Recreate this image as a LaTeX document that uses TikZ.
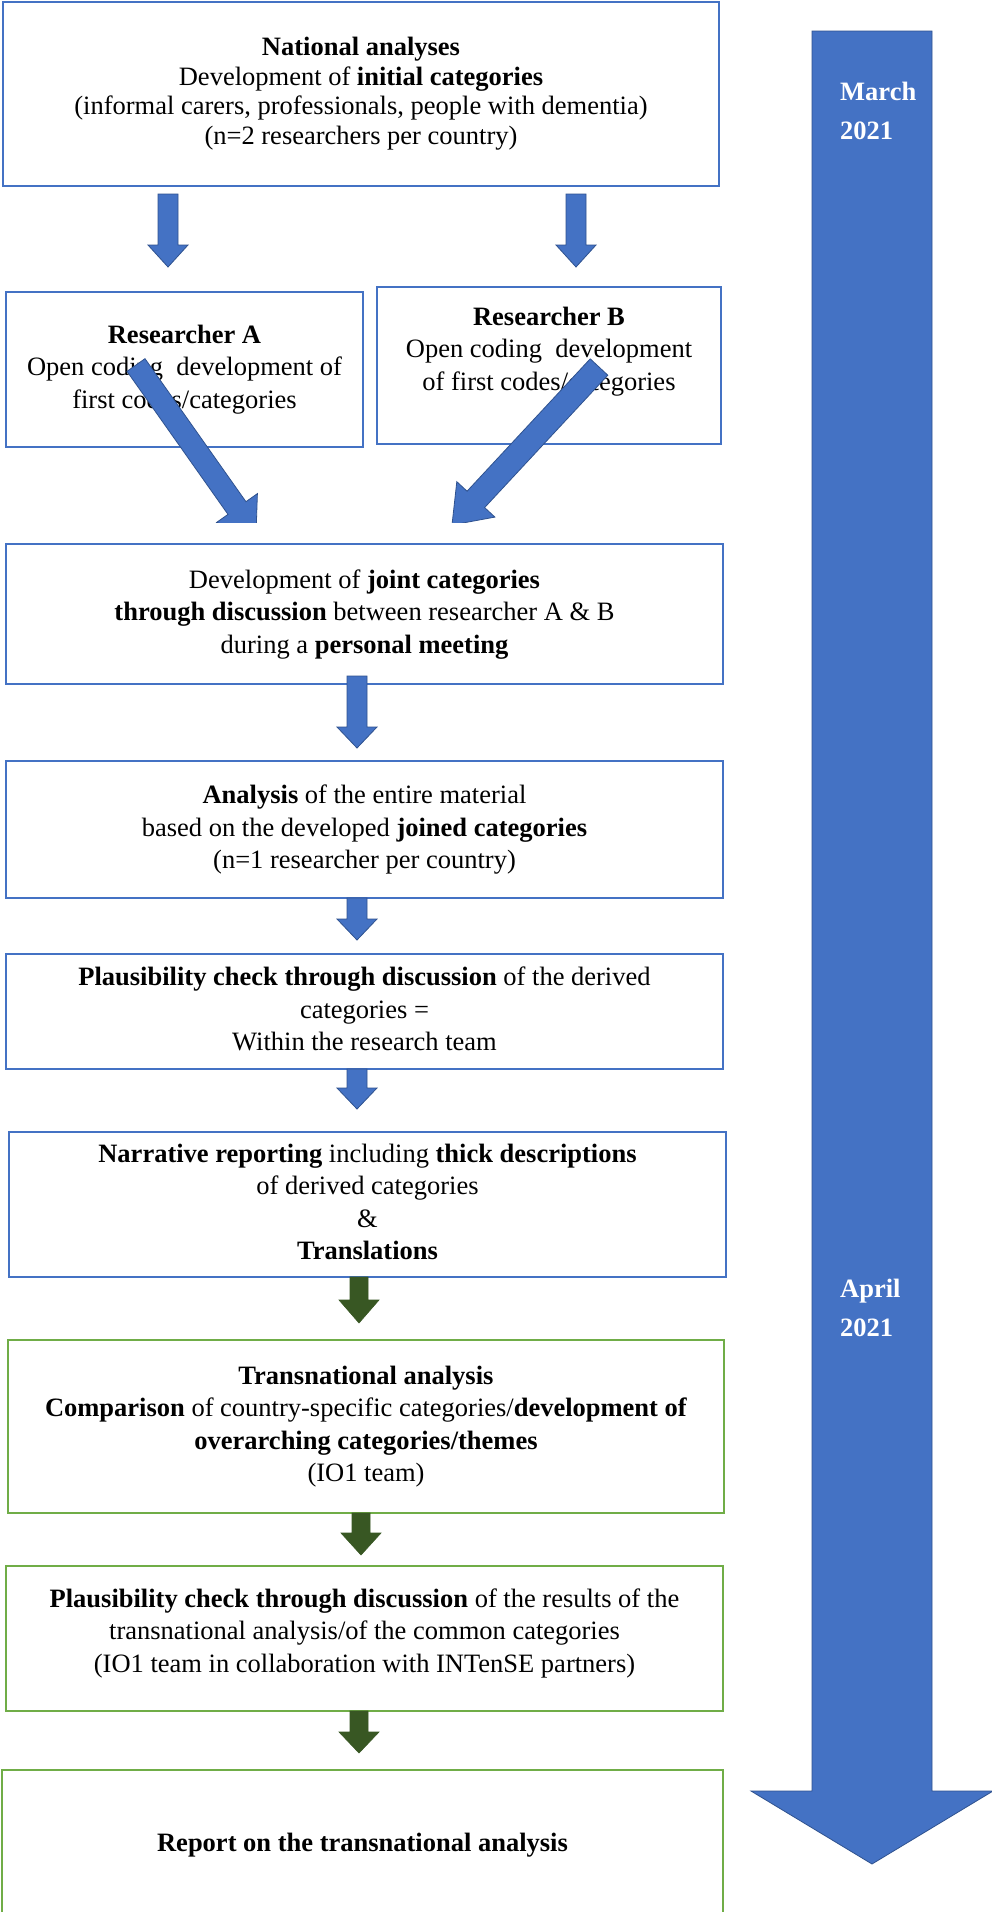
\documentclass[tikz,border=0pt]{standalone}
\usepackage{fontspec}
\setmainfont{Liberation Serif}
\usetikzlibrary{calc}
\definecolor{boxblue}{HTML}{4472C4}
\definecolor{arrblue}{HTML}{4472C4}
\definecolor{arredge}{HTML}{2F528F}
\definecolor{boxgreen}{HTML}{70AD47}
\definecolor{arrgreen}{HTML}{385723}
\newcommand\bodyfont{\fontsize{26.5}{32.5}\selectfont}
\newcommand\topfont{\fontsize{26.5}{29.5}\selectfont}
\newcommand\monthfont{\fontsize{26.5}{39}\selectfont\bfseries}
% block arrow: start, tip, shaft half width, head half width, head length, style
\newcommand\blockarrow[6]{%
  \coordinate (tmpH) at ($(#2)!#5!(#1)$);
  \filldraw[#6] ($(#1)!#3!90:(#2)$) -- ($(tmpH)!#3!90:(#2)$) -- ($(tmpH)!#4!90:(#2)$)
    -- (#2) -- ($(tmpH)!#4!-90:(#2)$) -- ($(tmpH)!#3!-90:(#2)$) -- ($(#1)!#3!-90:(#2)$) -- cycle;
}
\tikzset{
  bbox/.style={draw=boxblue, line width=2pt, align=center, inner sep=0pt, font=\bodyfont},
  gbox/.style={draw=boxgreen, line width=2pt, align=center, inner sep=0pt, font=\bodyfont},
  txt/.style={align=center, inner sep=0pt, font=\bodyfont},
  barr/.style={fill=arrblue, draw=arredge, line width=0.8pt, line join=miter},
  garr/.style={fill=arrgreen, draw=arrgreen, line width=0.6pt, line join=miter},
  month/.style={align=left, inner sep=0pt, anchor=north west, text=white, font=\monthfont}
}
\begin{document}
\begin{tikzpicture}[x=1pt, y=-1pt]
\useasboundingbox[fill=white] (0,0) rectangle (992,1912);

% boxes
\node[bbox, font=\topfont, minimum width=716pt, minimum height=184pt] (top) at (361,94)
  {\strut\textbf{National analyses}\\Development of \textbf{initial categories}\\(informal carers, professionals, people with dementia)\\(n=2 researchers per country)\strut};
\node[bbox, minimum width=357pt, minimum height=155pt] (ra) at (184.5,369)
  {\strut\textbf{Researcher A}\\Open coding\ \ development of\\first codes/categories\strut};
\node[bbox, minimum width=344pt, minimum height=157pt] (rb) at (549,365.5) {};
\node[txt] (rbt) at (549,351)
  {\strut\textbf{Researcher B}\\Open coding\ \ development\\of first codes/categories\strut};
\node[bbox, minimum width=717pt, minimum height=140pt] (joint) at (364.5,614)
  {\strut Development of \textbf{joint categories}\\\textbf{through discussion} between researcher A \& B\\during a \textbf{personal meeting}\strut};
\node[bbox, minimum width=717pt, minimum height=137pt] (an) at (364.5,829.5)
  {\strut\textbf{Analysis} of the entire material\\based on the developed \textbf{joined categories}\\(n=1 researcher per country)\strut};
\node[bbox, minimum width=717pt, minimum height=115pt] (pl) at (364.5,1011.5)
  {\strut\textbf{Plausibility check through discussion} of the derived\\categories =\\Within the research team\strut};
\node[bbox, minimum width=717pt, minimum height=145pt] (nr) at (367.5,1204.5)
  {\strut\textbf{Narrative reporting} including \textbf{thick descriptions}\\of derived categories\\\&\\\textbf{Translations}\strut};
\node[gbox, minimum width=716pt, minimum height=173pt] (tr) at (366,1426.5)
  {\strut\textbf{Transnational analysis}\\\textbf{Comparison} of country-specific categories/\textbf{development of}\\\textbf{overarching categories/themes}\\(IO1 team)\strut};
\node[gbox, minimum width=717pt, minimum height=145pt] (p2) at (364.5,1638.5) {};
\node[txt] (p2t) at (364.5,1633)
  {\strut\textbf{Plausibility check through discussion} of the results of the\\transnational analysis/of the common categories\\(IO1 team in collaboration with INTenSE partners)\strut};
\node[gbox, minimum width=721pt, minimum height=150pt] (rep) at (362.5,1845)
  {\strut\textbf{Report on the transnational analysis}\strut};

% timeline arrow
\coordinate (ts) at (872,31);
\coordinate (te) at (872,1864);
\blockarrow{ts}{te}{60pt}{121pt}{73pt}{barr}
\node[month] (mar) at (840,72.7) {\strut March\\2021};
\node[month] (apr) at (840,1269.7) {\strut April\\2021};

% small blue arrows
\coordinate (a1s) at (168,194); \coordinate (a1e) at (168,267);
\blockarrow{a1s}{a1e}{10pt}{20pt}{22pt}{barr}
\coordinate (a2s) at (576,194); \coordinate (a2e) at (576,267);
\blockarrow{a2s}{a2e}{10pt}{20pt}{22pt}{barr}
\coordinate (a3s) at (357,676); \coordinate (a3e) at (357,748);
\blockarrow{a3s}{a3e}{10pt}{20pt}{21pt}{barr}
\coordinate (a4s) at (357,898); \coordinate (a4e) at (357,940);
\blockarrow{a4s}{a4e}{10pt}{20pt}{21pt}{barr}
\coordinate (a5s) at (357,1069); \coordinate (a5e) at (357,1109);
\blockarrow{a5s}{a5e}{10pt}{20pt}{21pt}{barr}

% green arrows
\coordinate (g1s) at (359,1277); \coordinate (g1e) at (359,1323);
\blockarrow{g1s}{g1e}{9pt}{20pt}{23pt}{garr}
\coordinate (g2s) at (361,1513); \coordinate (g2e) at (361,1555);
\blockarrow{g2s}{g2e}{9pt}{20pt}{22pt}{garr}
\coordinate (g3s) at (359,1711); \coordinate (g3e) at (359,1753);
\blockarrow{g3s}{g3e}{9pt}{20pt}{21pt}{garr}

% diagonal arrows, cut off at the bottom
\begin{scope}
\clip (0,0) rectangle (992,522);
\coordinate (dAs) at (136,365); \coordinate (dAe) at (256,535);
\blockarrow{dAs}{dAe}{11pt}{25pt}{33pt}{barr}
\coordinate (dBs) at (599,367); \coordinate (dBe) at (452,525);
\blockarrow{dBs}{dBe}{12pt}{26pt}{35pt}{barr}
\end{scope}
\end{tikzpicture}
\end{document}
